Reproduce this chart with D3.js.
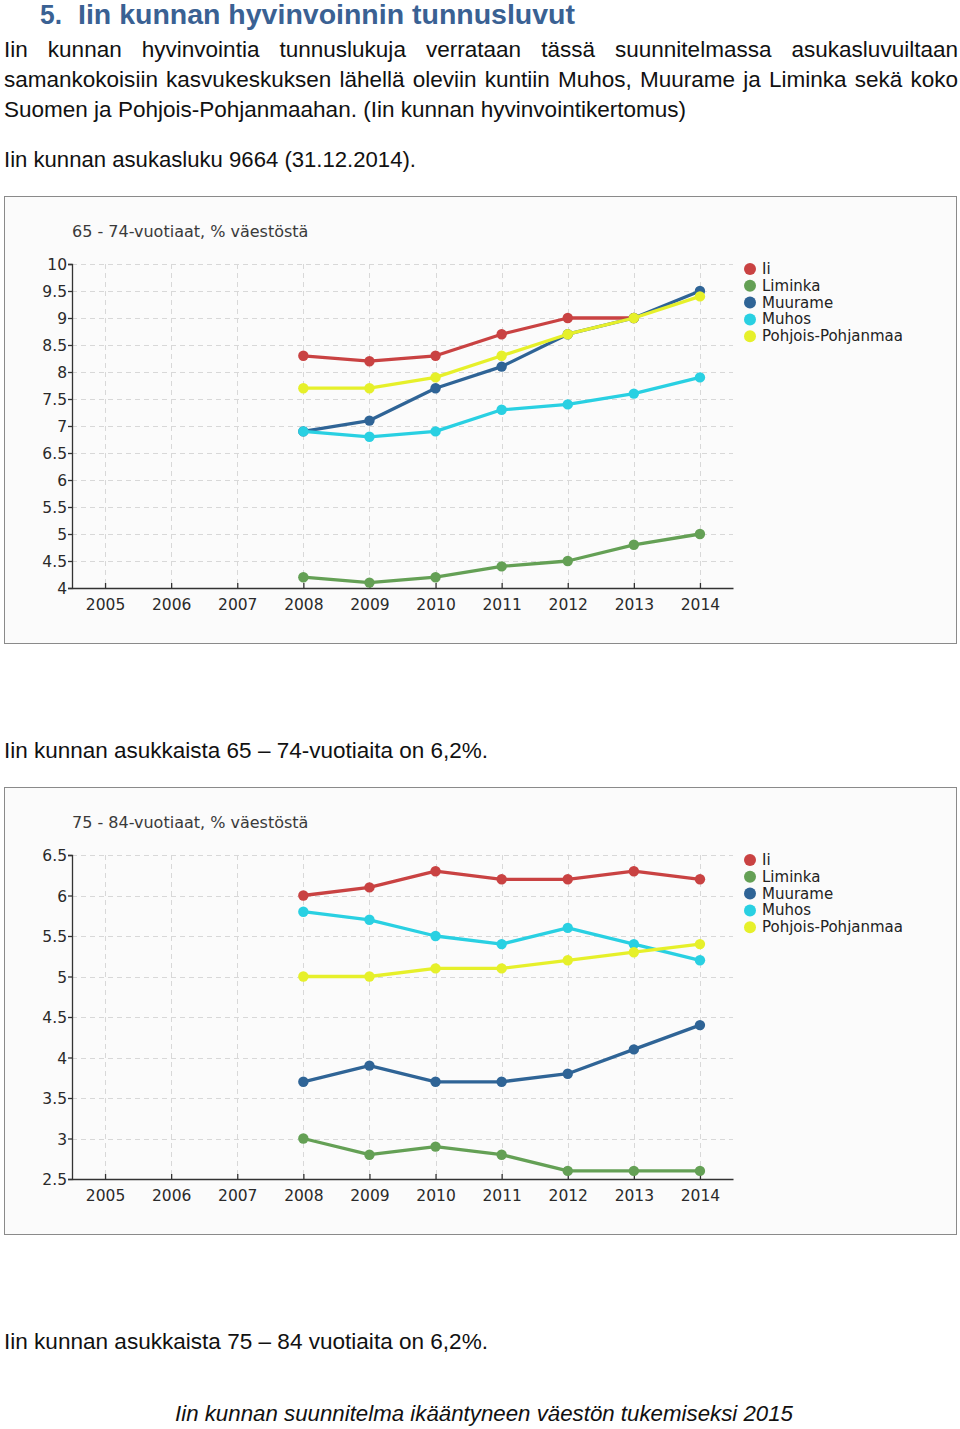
<!DOCTYPE html>
<html><head><meta charset="utf-8">
<script src="https://cdn.jsdelivr.net/npm/d3@7"></script>
<style>body{margin:0;background:#fff} svg{display:block}</style>
</head><body>
<script>
// ---------- data ----------
const years = [2005, 2006, 2007, 2008, 2009, 2010, 2011, 2012, 2013, 2014];
const seriesNames = ["Ii", "Liminka", "Muurame", "Muhos", "Pohjois-Pohjanmaa"];
const seriesColors = ["#c94242", "#64a055", "#2f6496", "#29d0e2", "#e6f02a"];

const chart1Title = "65 - 74-vuotiaat, % väestöstä";
const chart1Ticks = [4, 4.5, 5, 5.5, 6, 6.5, 7, 7.5, 8, 8.5, 9, 9.5, 10];
const chart1Ii       = [null, null, null, 8.3, 8.2, 8.3, 8.7, 9.0, 9.0, null];
const chart1Liminka  = [null, null, null, 4.2, 4.1, 4.2, 4.4, 4.5, 4.8, 5.0];
const chart1Muurame  = [null, null, null, 6.9, 7.1, 7.7, 8.1, 8.7, 9.0, 9.5];
const chart1Muhos    = [null, null, null, 6.9, 6.8, 6.9, 7.3, 7.4, 7.6, 7.9];
const chart1PP       = [null, null, null, 7.7, 7.7, 7.9, 8.3, 8.7, 9.0, 9.4];

const chart2Title = "75 - 84-vuotiaat, % väestöstä";
const chart2Ticks = [2.5, 3, 3.5, 4, 4.5, 5, 5.5, 6, 6.5];
const chart2Ii       = [null, null, null, 6.0, 6.1, 6.3, 6.2, 6.2, 6.3, 6.2];
const chart2Liminka  = [null, null, null, 3.0, 2.8, 2.9, 2.8, 2.6, 2.6, 2.6];
const chart2Muurame  = [null, null, null, 3.7, 3.9, 3.7, 3.7, 3.8, 4.1, 4.4];
const chart2Muhos    = [null, null, null, 5.8, 5.7, 5.5, 5.4, 5.6, 5.4, 5.2];
const chart2PP       = [null, null, null, 5.0, 5.0, 5.1, 5.1, 5.2, 5.3, 5.4];

const headingNum = "5.";
const headingText = "Iin kunnan hyvinvoinnin tunnusluvut";
const para1 = "Iin kunnan hyvinvointia tunnuslukuja verrataan tässä suunnitelmassa asukasluvuiltaan";
const para2 = "samankokoisiin kasvukeskuksen lähellä oleviin kuntiin Muhos, Muurame ja Liminka sekä koko";
const para3 = "Suomen ja Pohjois-Pohjanmaahan. (Iin kunnan hyvinvointikertomus)";
const para4 = "Iin kunnan asukasluku 9664 (31.12.2014).";
const note1 = "Iin kunnan asukkaista 65 – 74-vuotiaita on 6,2%.";
const note2 = "Iin kunnan asukkaista 75 – 84 vuotiaita on 6,2%.";
const footer = "Iin kunnan suunnitelma ikääntyneen väestön tukemiseksi 2015";

// ---------- page ----------
const W = 960, H = 1429;
const svg = d3.select("body").append("svg").attr("width", W).attr("height", H);
svg.append("rect").attr("width", W).attr("height", H).attr("fill", "#fff");

const bodyFont = "'Liberation Sans', Arial, sans-serif";
const chartFont = "'DejaVu Sans', Verdana, sans-serif";

function measure(txt, size, weight, style) {
  const t = svg.append("text").attr("font-family", bodyFont).attr("font-size", size)
    .attr("font-weight", weight || "normal").attr("font-style", style || "normal").text(txt);
  const w = t.node().getComputedTextLength();
  t.remove();
  return w;
}
function fitText(txt, x, y, width, opt) {
  opt = opt || {};
  return svg.append("text").attr("x", x).attr("y", y)
    .attr("font-family", bodyFont).attr("font-size", opt.size || 22)
    .attr("font-weight", opt.weight || "normal").attr("font-style", opt.style || "normal")
    .attr("fill", opt.fill || "#111")
    .attr("textLength", width).attr("lengthAdjust", "spacingAndGlyphs").text(txt);
}
function justify(txt, x0, x1, y, cs) {
  const words = txt.split(" ");
  const ws = words.map(w => measure(w, 22) * cs);
  const gap = (x1 - x0 - d3.sum(ws)) / (words.length - 1);
  let x = x0;
  words.forEach((w, i) => {
    fitText(w, x, y, ws[i]);
    x += ws[i] + gap;
  });
}

// heading
fitText(headingNum, 40, 24, 22, {size: 27, weight: "bold", fill: "#3a6193"});
fitText(headingText, 78, 24, 497, {size: 27, weight: "bold", fill: "#3a6193"});

const cs = 682 / measure(para3, 22);
justify(para1, 4, 958, 57, cs);
justify(para2, 4, 958, 87, cs);
fitText(para3, 4, 117, 682);
fitText(para4, 4, 167, 412);
fitText(note1, 4, 758, 484);
fitText(note2, 4, 1349, 484);
fitText(footer, 175, 1421, 618, {style: "italic"});

// ---------- charts ----------
const x = d3.scaleLinear().domain([2004.5, 2014.5]).range([72, 733]);

function drawChart(boxTop, title, ticks, seriesData) {
  const g = svg.append("g");
  g.append("rect").attr("x", 4.5).attr("y", boxTop + 0.5).attr("width", 952).attr("height", 447)
    .attr("fill", "#fbfbfb").attr("stroke", "#8a8a8a").attr("stroke-width", 1);

  const y = d3.scaleLinear().domain(d3.extent(ticks)).range([boxTop + 392, boxTop + 68]);

  g.append("text").attr("x", 72).attr("y", boxTop + 41)
    .attr("font-family", chartFont).attr("font-size", 16).attr("fill", "#3a3a3a").text(title);

  // grid
  const grid = g.append("g").attr("stroke", "#d8d8d8").attr("stroke-dasharray", "5,4").attr("stroke-width", 1);
  grid.selectAll("line.h").data(ticks.slice(1)).join("line")
    .attr("x1", x.range()[0]).attr("x2", x.range()[1])
    .attr("y1", d => Math.round(y(d)) + 0.5).attr("y2", d => Math.round(y(d)) + 0.5);
  grid.selectAll("line.v").data(years).join("line")
    .attr("x1", d => Math.round(x(d)) + 0.5).attr("x2", d => Math.round(x(d)) + 0.5)
    .attr("y1", y.range()[1]).attr("y2", y.range()[0]);

  // axes
  const yAxis = g.append("g").attr("transform", `translate(${x.range()[0]},0)`)
    .call(d3.axisLeft(y).tickValues(ticks).tickFormat(d => String(d)).tickSize(4).tickPadding(1));
  const xAxis = g.append("g").attr("transform", `translate(0,${y.range()[0]})`)
    .call(d3.axisBottom(x).tickValues(years).tickFormat(d => String(d)).tickSizeInner(-5).tickSizeOuter(0).tickPadding(11));
  [yAxis, xAxis].forEach(a => {
    a.selectAll("text").attr("font-family", chartFont).attr("font-size", 15.5).attr("fill", "#2a2a2a");
    a.selectAll("path, line").attr("stroke", "#333").attr("stroke-width", 1.3);
  });
  yAxis.selectAll("text").attr("dy", "0.36em");

  // series
  const line = d3.line().defined(d => d.v != null).x(d => x(d.year)).y(d => y(d.v));
  seriesData.forEach((vals, i) => {
    const pts = years.map((yr, j) => ({year: yr, v: vals[j]}));
    g.append("path").datum(pts).attr("d", line).attr("fill", "none")
      .attr("stroke", seriesColors[i]).attr("stroke-width", 3.3).attr("stroke-linejoin", "round");
    g.selectAll(null).data(pts.filter(p => p.v != null)).join("circle")
      .attr("cx", d => x(d.year)).attr("cy", d => y(d.v)).attr("r", 5.2).attr("fill", seriesColors[i]);
  });

  // legend
  const leg = g.append("g").attr("transform", `translate(750,${boxTop + 73})`);
  seriesNames.forEach((name, i) => {
    leg.append("circle").attr("cx", 0).attr("cy", i * 16.8).attr("r", 6).attr("fill", seriesColors[i]);
    leg.append("text").attr("x", 12).attr("y", i * 16.8 + 5)
      .attr("font-family", chartFont).attr("font-size", 15).attr("fill", "#222").text(name);
  });
}

drawChart(196, chart1Title, chart1Ticks, [chart1Ii, chart1Liminka, chart1Muurame, chart1Muhos, chart1PP]);
drawChart(787, chart2Title, chart2Ticks, [chart2Ii, chart2Liminka, chart2Muurame, chart2Muhos, chart2PP]);
</script>
</body></html>
